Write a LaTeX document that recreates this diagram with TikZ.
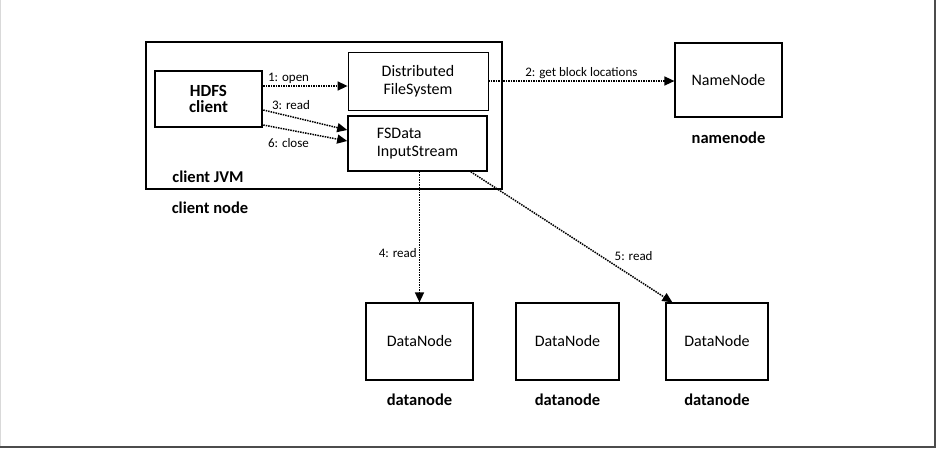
\documentclass[tikz,border=0pt]{standalone}
\usepackage{fontspec}
\setmainfont{Carlito}
\usetikzlibrary{positioning, arrows.meta}

\tikzset{
  box/.style={draw, line width=1.2pt, align=center, font=\fontsize{16}{18}\selectfont},
  tag/.style={font=\bfseries\fontsize{16.5}{18}\selectfont, inner sep=2pt},
  lbl/.style={font=\fontsize{13}{15}\selectfont, inner sep=2pt},
  flow/.style={densely dotted, line width=1.5pt, -{Triangle[length=10pt,width=9pt]}},
}

\begin{document}
\begin{tikzpicture}[x=1pt, y=-1pt]
\useasboundingbox (0,0) rectangle (938,450);
% frame
\draw[gray!30, line width=1pt] (0.5,0) -- (0.5,447);
\draw[black!70, line width=2pt] (935,0) -- (935,447) -- (0,447);

% nodes
\node[box, line width=2.6pt, minimum width=356pt, minimum height=147pt] (jvm) at (324,115.5) {};
\node[box, line width=2.6pt, minimum width=107pt, minimum height=56pt, font=\bfseries\fontsize{17}{16}\selectfont] (client) at (208.5,99) {HDFS\\client};
\node[box, line width=0.8pt, minimum width=140pt, minimum height=58pt] (dfs) at (418,81) {Distributed\\FileSystem};
\node[box, line width=1.6pt, minimum width=139pt, minimum height=55pt, align=left] (fsin) at (417.5,143.5) {FSData\\InputStream};
\node[tag] (jvmlbl) at (208,177) {client JVM};
\node[tag] (cnlbl) at (210,208) {client node};

\node[box, minimum width=107pt, minimum height=74pt] (nn) at (728.5,80) {NameNode};
\node[tag, below=12pt of nn] (nnlbl) {namenode};

\node[box, minimum width=107pt, minimum height=77pt] (dn1) at (419.5,341.5) {DataNode};
\node[box, line width=1.8pt, minimum width=103pt, minimum height=77pt] (dn2) at (567.5,341.5) {DataNode};
\node[box, minimum width=102pt, minimum height=77pt] (dn3) at (717,341.5) {DataNode};
\node[tag, below=11pt of dn1] (dn1lbl) {datanode};
\node[tag, below=11pt of dn2] (dn2lbl) {datanode};
\node[tag, below=11pt of dn3] (dn3lbl) {datanode};

% arrows
\draw[flow] ([yshift=13pt]client.east) -- node[lbl, above, pos=0.3] {1: open} ([yshift=-5pt]dfs.west);
\draw[flow] (dfs.east) -- node[lbl, above] {2: get block locations} (dfs.east -| nn.west);
\draw[flow] ([yshift=-11pt]client.east) -- node[lbl, above=4pt, pos=0.33] {3: read} ([yshift=13.5pt]fsin.west);
\draw[flow] ([yshift=-26pt]client.east) -- node[lbl, below=6pt, pos=0.3] {6: close} ([yshift=2.5pt]fsin.west);
\draw[flow] (fsin.south -| dn1.north) -- node[lbl, left, pos=0.62] {4: read} (dn1.north);
\draw[flow] ([xshift=-17pt]fsin.south east) -- node[lbl, above right, pos=0.7] {5: read} ([xshift=7pt]dn3.north west);
\end{tikzpicture}
\end{document}
